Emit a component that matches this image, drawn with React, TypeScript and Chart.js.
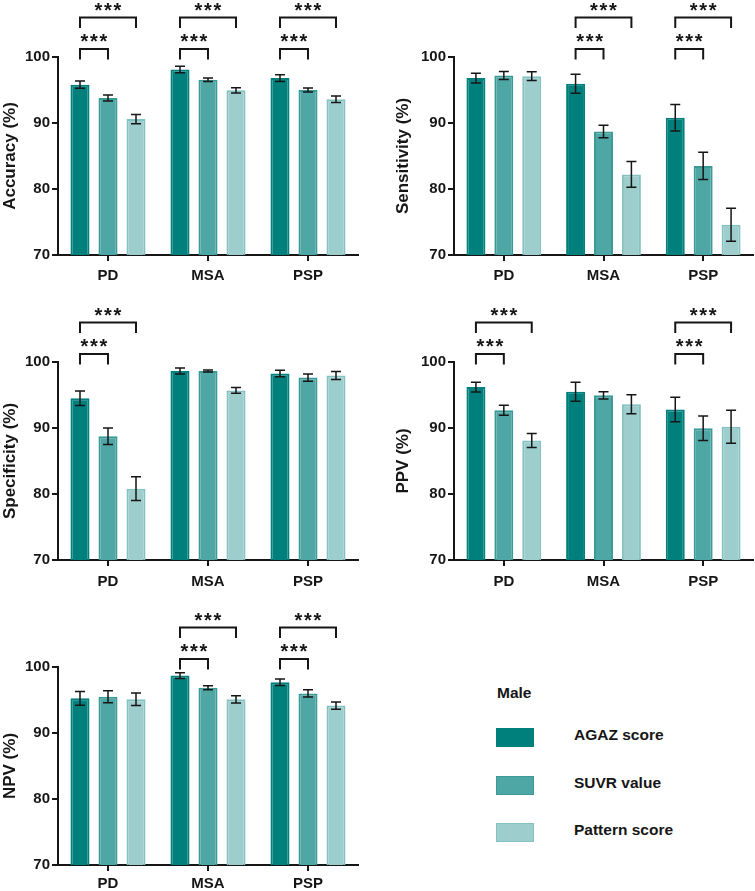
import React, { useEffect, useRef } from 'react';
import { Chart, registerables } from 'chart.js';

Chart.register(...registerables);

// ---------- data ----------
const categories = ['PD', 'MSA', 'PSP'];
const seriesNames = ['AGAZ score', 'SUVR value', 'Pattern score'];
const yTicks = [70, 80, 90, 100];
const legendTitle = 'Male';

const accuracyAGAZ = [95.8, 98.1, 96.8];
const accuracySUVR = [93.8, 96.55, 95.0];
const accuracyPattern = [90.6, 94.95, 93.6];
const accuracyAGAZErr = [0.55, 0.5, 0.5];
const accuracySUVRErr = [0.45, 0.25, 0.3];
const accuracyPatternErr = [0.7, 0.4, 0.5];
const accuracyBrackets = [[0, 0, 1], [0, 0, 2], [1, 0, 1], [1, 0, 2], [2, 0, 1], [2, 0, 2]];

const sensitivityAGAZ = [96.8, 95.95, 90.8];
const sensitivitySUVR = [97.2, 88.7, 83.5];
const sensitivityPattern = [97.1, 82.2, 74.6];
const sensitivityAGAZErr = [0.75, 1.45, 2.0];
const sensitivitySUVRErr = [0.6, 0.95, 2.05];
const sensitivityPatternErr = [0.65, 1.95, 2.5];
const sensitivityBrackets = [[1, 0, 1], [1, 0, 2], [2, 0, 1], [2, 0, 2]];

const specificityAGAZ = [94.5, 98.65, 98.25];
const specificitySUVR = [88.75, 98.65, 97.65];
const specificityPattern = [80.8, 95.7, 97.95];
const specificityAGAZErr = [1.1, 0.45, 0.5];
const specificitySUVRErr = [1.25, 0.15, 0.55];
const specificityPatternErr = [1.8, 0.45, 0.6];
const specificityBrackets = [[0, 0, 1], [0, 0, 2]];

const ppvAGAZ = [96.2, 95.5, 92.8];
const ppvSUVR = [92.7, 94.95, 89.95];
const ppvPattern = [88.1, 93.6, 90.2];
const ppvAGAZErr = [0.75, 1.45, 1.85];
const ppvSUVRErr = [0.75, 0.55, 1.85];
const ppvPatternErr = [1.05, 1.45, 2.5];
const ppvBrackets = [[0, 0, 1], [0, 0, 2], [2, 0, 1], [2, 0, 2]];

const npvAGAZ = [95.25, 98.7, 97.7];
const npvSUVR = [95.5, 96.85, 96.0];
const npvPattern = [95.1, 95.1, 94.15];
const npvAGAZErr = [1.05, 0.43, 0.5];
const npvSUVRErr = [0.9, 0.3, 0.55];
const npvPatternErr = [0.95, 0.55, 0.55];
const npvBrackets = [[1, 0, 1], [1, 0, 2], [2, 0, 1], [2, 0, 2]];

const starLabel = '***';

// ---------- styles ----------
const FONT = '"Liberation Sans", Arial, Helvetica, sans-serif';
const INK = '#161616';
const fills = ['#00807c', '#4ea7a4', '#9dcecd'];
const borders = ['#00807c', '#3b9a96', '#84c2c1'];

type PanelDef = {
  title: string;
  values: number[][];
  errors: number[][];
  brackets: number[][];
  left: number; top: number; width: number; height: number;
  padTop: number; padRight: number; yWidth: number; titlePad: number;
  xHeight: number; xTickPad: number;
};

const panels: PanelDef[] = [
  {
    title: 'Accuracy (%)',
    values: [accuracyAGAZ, accuracySUVR, accuracyPattern],
    errors: [accuracyAGAZErr, accuracySUVRErr, accuracyPatternErr],
    brackets: accuracyBrackets,
    left: 0, top: 0, width: 375, height: 295,
    padTop: 57, padRight: 17, yWidth: 58, titlePad: 0, xHeight: 40, xTickPad: 6,
  },
  {
    title: 'Sensitivity (%)',
    values: [sensitivityAGAZ, sensitivitySUVR, sensitivityPattern],
    errors: [sensitivityAGAZErr, sensitivitySUVRErr, sensitivityPatternErr],
    brackets: sensitivityBrackets,
    left: 375, top: 0, width: 380, height: 295,
    padTop: 57, padRight: 2, yWidth: 79, titlePad: 18, xHeight: 40, xTickPad: 6,
  },
  {
    title: 'Specificity (%)',
    values: [specificityAGAZ, specificitySUVR, specificityPattern],
    errors: [specificityAGAZErr, specificitySUVRErr, specificityPatternErr],
    brackets: specificityBrackets,
    left: 0, top: 290, width: 375, height: 305,
    padTop: 72, padRight: 17, yWidth: 58, titlePad: 0, xHeight: 35, xTickPad: 7,
  },
  {
    title: 'PPV (%)',
    values: [ppvAGAZ, ppvSUVR, ppvPattern],
    errors: [ppvAGAZErr, ppvSUVRErr, ppvPatternErr],
    brackets: ppvBrackets,
    left: 375, top: 290, width: 380, height: 305,
    padTop: 72, padRight: 2, yWidth: 79, titlePad: 18, xHeight: 35, xTickPad: 7,
  },
  {
    title: 'NPV (%)',
    values: [npvAGAZ, npvSUVR, npvPattern],
    errors: [npvAGAZErr, npvSUVRErr, npvPatternErr],
    brackets: npvBrackets,
    left: 0, top: 580, width: 375, height: 311,
    padTop: 87, padRight: 17, yWidth: 58, titlePad: 0, xHeight: 26, xTickPad: 4,
  },
];

function makeErrorBarPlugin(errors: number[][]) {
  return {
    id: 'errorBars',
    afterDatasetsDraw(chart: any) {
      const { ctx } = chart;
      const y = chart.scales.y;
      ctx.save();
      ctx.strokeStyle = INK;
      ctx.lineWidth = 1.5;
      chart.data.datasets.forEach((ds: any, si: number) => {
        const meta = chart.getDatasetMeta(si);
        meta.data.forEach((bar: any, i: number) => {
          const v = ds.data[i] as number;
          const e = errors[si][i];
          const yt = y.getPixelForValue(v + e);
          const yb = y.getPixelForValue(v - e);
          const x = bar.x;
          const cap = 5;
          ctx.beginPath();
          ctx.moveTo(x, yt); ctx.lineTo(x, yb);
          ctx.moveTo(x - cap, yt); ctx.lineTo(x + cap, yt);
          ctx.moveTo(x - cap, yb); ctx.lineTo(x + cap, yb);
          ctx.stroke();
        });
      });
      ctx.restore();
    },
  };
}

function makeBracketPlugin(brackets: number[][]) {
  return {
    id: 'brackets',
    afterDraw(chart: any) {
      const { ctx } = chart;
      const base = chart.scales.y.getPixelForValue(100);
      ctx.save();
      ctx.strokeStyle = INK;
      ctx.fillStyle = INK;
      ctx.lineWidth = 2;
      ctx.font = `bold 20px ${FONT}`;
      ctx.textAlign = 'center';
      ctx.textBaseline = 'alphabetic';
      brackets.forEach(([cat, from, to]) => {
        const x1 = chart.getDatasetMeta(from).data[cat].x;
        const x2 = chart.getDatasetMeta(to).data[cat].x;
        const level = to - 1;
        const topY = level === 0 ? base - 8 : base - 39.5;
        const legY = level === 0 ? base + 2.5 : base - 29;
        const starBase = level === 0 ? base - 9.5 : base - 40.5;
        ctx.beginPath();
        ctx.moveTo(x1, legY);
        ctx.lineTo(x1, topY);
        ctx.lineTo(x2, topY);
        ctx.lineTo(x2, legY);
        ctx.stroke();
        const cx = (x1 + x2) / 2;
        const gap = 9.5;
        for (let k = 0; k < starLabel.length; k++) {
          ctx.fillText(starLabel[k], cx + (k - 1) * gap, starBase);
        }
      });
      ctx.restore();
    },
  };
}

function Panel({ p }: { p: PanelDef }) {
  const ref = useRef<HTMLCanvasElement | null>(null);
  useEffect(() => {
    if (!ref.current) return;
    const chart = new Chart(ref.current, {
      type: 'bar',
      data: {
        labels: categories,
        datasets: p.values.map((vals, si) => ({
          label: seriesNames[si],
          data: vals,
          backgroundColor: fills[si],
          borderColor: borders[si],
          borderWidth: 2,
          borderSkipped: 'bottom',
          barPercentage: 0.68,
          categoryPercentage: 0.84,
        })),
      },
      options: {
        responsive: false,
        animation: false,
        events: [],
        layout: { padding: { top: p.padTop, right: p.padRight, left: 0, bottom: 0 } },
        plugins: { legend: { display: false }, tooltip: { enabled: false } },
        scales: {
          x: {
            grid: {
              display: true, drawOnChartArea: false, offset: false,
              tickLength: 6, tickWidth: 2, tickColor: INK, color: INK, lineWidth: 2,
            },
            border: { display: true, color: INK, width: 2 },
            ticks: {
              color: INK, padding: p.xTickPad, maxRotation: 0,
              font: { family: FONT, size: 15, weight: 'bold' },
            },
            afterFit: (s: any) => { s.height = p.xHeight; },
          },
          y: {
            min: 70, max: 100,
            afterBuildTicks: (s: any) => { s.ticks = yTicks.map((v) => ({ value: v })); },
            grid: {
              display: true, drawOnChartArea: false,
              tickLength: 6, tickWidth: 2, tickColor: INK, color: INK, lineWidth: 2,
            },
            border: { display: true, color: INK, width: 2 },
            ticks: {
              color: INK, padding: 2,
              font: { family: FONT, size: 15, weight: 'bold' },
            },
            title: {
              display: true, text: p.title, color: INK,
              font: { family: FONT, size: 17, weight: 'bold' },
              padding: { top: p.titlePad, bottom: 0 },
            },
            afterFit: (s: any) => { s.width = p.yWidth; },
          },
        },
      } as any,
      plugins: [makeErrorBarPlugin(p.errors), makeBracketPlugin(p.brackets)],
    });
    return () => chart.destroy();
  }, [p]);
  return (
    <canvas
      ref={ref}
      width={p.width}
      height={p.height}
      style={{ position: 'absolute', left: p.left, top: p.top, width: p.width, height: p.height }}
    />
  );
}

function Legend() {
  const textStyle: React.CSSProperties = {
    position: 'absolute', fontFamily: FONT, fontWeight: 'bold', fontSize: 15.5,
    color: INK, lineHeight: '20px', whiteSpace: 'nowrap',
  };
  const rows = [728, 776, 823];
  return (
    <>
      <div style={{ ...textStyle, left: 497, top: 683 }}>{legendTitle}</div>
      {seriesNames.map((name, i) => (
        <React.Fragment key={name}>
          <div
            style={{
              position: 'absolute', left: 496, top: rows[i], width: 38, height: 19,
              background: fills[i], boxSizing: 'border-box', border: `1px solid ${borders[i]}`,
            }}
          />
          <div style={{ ...textStyle, left: 574, top: rows[i] - 3 }}>{name}</div>
        </React.Fragment>
      ))}
    </>
  );
}

export default function App() {
  return (
    <div style={{ position: 'absolute', left: 0, top: 0, width: 755, height: 891, background: '#fff', overflow: 'hidden' }}>
      {panels.map((p) => (
        <Panel key={p.title} p={p} />
      ))}
      <Legend />
    </div>
  );
}
